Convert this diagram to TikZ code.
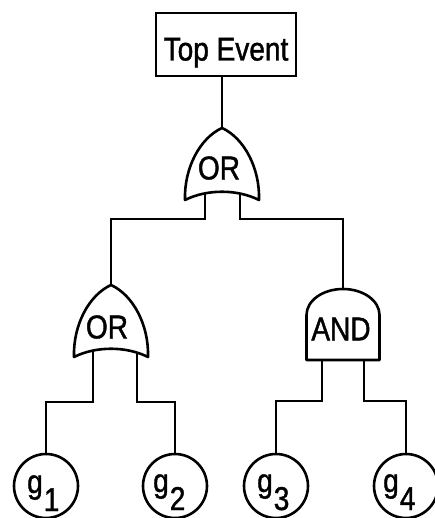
\documentclass[tikz,border=0pt]{standalone}
\usepackage{fontspec}
\setmainfont{Liberation Sans}[FakeStretch=0.85,FakeBold=1.2]
\usetikzlibrary{calc}
\begin{document}
\begin{tikzpicture}[x=1pt,y=-1pt,
  wire/.style={line width=2.6pt, line join=miter},
  gate/.style={draw, line width=2.6pt, fill=white, line join=round},
  lbl/.style={font=\fontsize{33}{33}\selectfont, inner sep=0pt},
  topbox/.style={draw, line width=2.6pt, minimum width=140pt, minimum height=63pt,
                 inner sep=0pt, text height=32pt, text depth=0pt, font=\fontsize{33}{33}\selectfont},
  event/.style={circle, draw, line width=2.6pt, minimum size=64pt, inner sep=0pt},
  sub/.style={anchor=base west, lbl},
  % OR gate: pointed top, curved sides, concave base; origin at the apex
  orgate/.pic={\path[gate] (0,0) .. controls (-22,10) and (-38,40) .. (-37,72)
                 .. controls (-15,61) and (15,61) .. (37,72)
                 .. controls (38,40) and (22,10) .. cycle;},
  % AND gate: domed top, straight sides, flat base; origin at the top
  andgate/.pic={\path[gate] (-36.5,71) -- (-36.5,26)
                 .. controls (-36.5,11.6) and (-20.2,0) .. (0,0)
                 .. controls (20.2,0) and (36.5,11.6) .. (36.5,26)
                 -- (36.5,71) -- cycle;},
]
\useasboundingbox (0,0) rectangle (434,518);

% gate inputs (tops) and outputs (legs)
\coordinate (or0) at (222,128);
\coordinate (or1) at (111,285);
\coordinate (and1) at (343,289);
\coordinate (or0L) at ($(or0)+(-17,60)$);
\coordinate (or0R) at ($(or0)+(18,60)$);
\coordinate (or1L) at ($(or1)+(-18,60)$);
\coordinate (or1R) at ($(or1)+(26,60)$);
\coordinate (and1L) at ($(and1)+(-21,60)$);
\coordinate (and1R) at ($(and1)+(21,60)$);
\coordinate (bus0) at (0,219);
\coordinate (bus1) at (0,402);
\coordinate (bus2) at (0,401);

% top event
\node[topbox] (top) at (226,44.5) {Top Event};

% basic events
\node[event] (g1) at (46,486) {};
\node[event] (g2) at (175,486) {};
\node[event] (g3) at (276,486) {};
\node[event] (g4) at (406,486) {};

% connectors
\draw[wire] (or0 |- top.south) -- (or0);
\draw[wire] (or0L) |- (bus0 -| or1) -- (or1);
\draw[wire] (or0R) |- (bus0 -| and1) -- (and1);
\draw[wire] (or1L) |- (bus1 -| g1) -- (g1.north);
\draw[wire] (or1R) |- (bus1 -| g2) -- (g2.north);
\draw[wire] (and1L) |- (bus2 -| g3) -- (g3.north);
\draw[wire] (and1R) |- (bus2 -| g4) -- (g4.north);

% gates
\pic at (or0) {orgate};
\pic at (or1) {orgate};
\pic at (and1) {andgate};
\node[lbl] (or0t) at (219,168) {OR};
\node[lbl] (or1t) at (107,327) {OR};
\node[lbl] (and1t) at (341,329) {AND};

% event labels
\node[sub] (g1t) at ($(g1)+(-19,7)$) {g\kern1pt\raisebox{-18pt}{1}};
\node[sub] (g2t) at ($(g2)+(-22,6)$) {g\kern1pt\raisebox{-18pt}{2}};
\node[sub] (g3t) at ($(g3)+(-19,6)$) {g\kern1pt\raisebox{-18pt}{3}};
\node[sub] (g4t) at ($(g4)+(-23,6)$) {g\kern1pt\raisebox{-18pt}{4}};
\end{tikzpicture}
\end{document}
